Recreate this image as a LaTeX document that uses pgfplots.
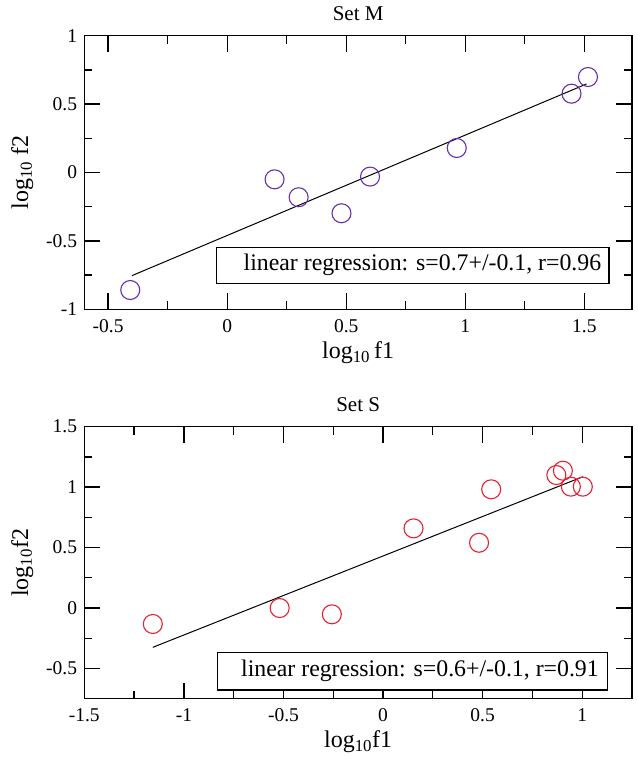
\documentclass[border=0pt]{standalone}
\usepackage{fontspec}
\setmainfont{Liberation Serif}
\usepackage{pgfplots}
\pgfplotsset{compat=1.18}
\definecolor{indigoM}{RGB}{100,45,180}
\definecolor{redS}{RGB}{232,30,50}
\pgfplotsset{
  grace/.style={
    scale only axis,
    width=547.7pt,
    axis line style={line width=1.3pt},
    every tick/.style={black, line width=1.3pt},
    major tick length=16pt,
    minor tick length=8pt,
    minor tick num=1,
    tick align=inside,
    tick label style={font=\fontsize{19.5}{22}\selectfont},
    xticklabel style={anchor=north, inner sep=0pt, yshift=-10pt},
    yticklabel style={anchor=east, inner sep=0pt, xshift=-7pt},
    label style={font=\fontsize{24}{28}\selectfont, inner sep=0pt},
    xlabel style={at={(axis description cs:0.5,0)}, anchor=base, yshift=-49pt},
    ylabel style={at={(axis description cs:-0.0926,0.5)}, anchor=south},
    title style={font=\fontsize{21}{25}\selectfont, inner sep=0pt, at={(axis description cs:0.5,1)}, anchor=base},
    clip=false,
  }
}
\begin{document}
\begin{tikzpicture}
% bottom panel: Set S
\begin{axis}[grace, at={(0pt,0pt)}, height=272pt,
  xmin=-1.5, xmax=1.25, ymin=-0.75, ymax=1.5,
  xtick={-1.5,-1,-0.5,0,0.5,1}, xticklabels={-1.5,-1,-0.5,0,0.5,1},
  ytick={-0.5,0,0.5,1,1.5}, yticklabels={-0.5,0,0.5,1,1.5},
  title={Set S}, title style={yshift=9.5pt},
  xlabel={log\textsubscript{10}f1}, ylabel={log\textsubscript{10}f2}]
\addplot[only marks, mark=o, mark size=9.5pt, redS, mark options={line width=1.1pt}] coordinates {
(-1.156,-0.132) (-0.519,0.000) (-0.257,-0.052) (0.153,0.659) (0.482,0.540)
(0.543,0.982) (0.870,1.100) (0.903,1.136) (0.943,1.004) (1.003,1.004)};
\addplot[black, line width=1pt] coordinates {(-1.156,-0.325) (1.003,1.086)};
\draw[line width=1.3pt, fill=white] (axis cs:-0.832,-0.370) rectangle (axis cs:1.1255,-0.678);
\node[anchor=base east, inner sep=0pt, font=\fontsize{23.8}{28}\selectfont] at (axis cs:1.084,-0.568) {linear regression: s=0.6+/-0.1, r=0.91};
\end{axis}
% top panel: Set M
\begin{axis}[grace, at={(0pt,389.4pt)}, height=273.6pt,
  xmin=-0.6, xmax=1.7, ymin=-1, ymax=1,
  xtick={-0.5,0,0.5,1,1.5}, xticklabels={-0.5,0,0.5,1,1.5},
  ytick={-1,-0.5,0,0.5,1}, yticklabels={-1,-0.5,0,0.5,1},
  title={Set M}, title style={yshift=9pt},
  xlabel={log\textsubscript{10}\,f1}, ylabel={log\textsubscript{10} f2}]
\addplot[only marks, mark=o, mark size=9.5pt, indigoM, mark options={line width=1.1pt}] coordinates {
(-0.407,-0.859) (0.199,-0.050) (0.300,-0.181) (0.480,-0.298) (0.600,-0.030)
(0.964,0.179) (1.446,0.576) (1.515,0.698)};
\addplot[black, line width=1pt] coordinates {(-0.400,-0.754) (1.509,0.647)};
\draw[line width=1.3pt, fill=white] (axis cs:-0.0447,-0.550) rectangle (axis cs:1.604,-0.813);
\node[anchor=base east, inner sep=0pt, font=\fontsize{23.8}{28}\selectfont] at (axis cs:1.5716,-0.720) {linear regression: s=0.7+/-0.1, r=0.96};
\end{axis}
\path (-84.3pt,-63.3pt) rectangle (552.7pt,698.7pt);
\end{tikzpicture}
\end{document}
